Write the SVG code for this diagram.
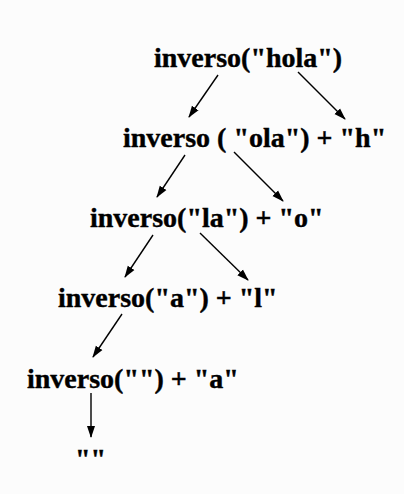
<svg xmlns="http://www.w3.org/2000/svg" width="404" height="494" viewBox="0 0 404 494">
<defs>
<style>
text{font-family:"Liberation Serif","Times New Roman",serif;font-weight:bold;font-size:28px;fill:#000;stroke:#000;stroke-width:0.4}
.c line{stroke:#000;stroke-width:1.4;marker-end:url(#ah)}
</style>
<marker id="ah" viewBox="0 0 12 10" refX="11" refY="5" markerWidth="12" markerHeight="10" markerUnits="userSpaceOnUse" orient="auto">
<path d="M0,1 L12,5 L0,9 Z" fill="#000"/>
</marker>
</defs>
<rect width="404" height="494" fill="#fcfcfc"/>
<g id="n1"><text x="154" y="67">inverso("hola")</text></g>
<g id="n2"><text x="123" y="147">inverso ( "ola") + "h"</text></g>
<g id="n3"><text x="90" y="227">inverso("la") + "o"</text></g>
<g id="n4"><text x="58" y="307">inverso("a") + "l"</text></g>
<g id="n5"><text x="27" y="388">inverso("") + "a"</text></g>
<g id="n6"><text x="75" y="468">""</text></g>
<g class="c" id="connectors">
<line x1="218" y1="75" x2="189" y2="117"/>
<line x1="298" y1="72" x2="345" y2="119"/>
<line x1="185" y1="155" x2="157" y2="197"/>
<line x1="234" y1="152" x2="283" y2="201"/>
<line x1="153" y1="235" x2="125" y2="277"/>
<line x1="200" y1="233" x2="248" y2="280"/>
<line x1="122" y1="314" x2="93" y2="357"/>
<line x1="91" y1="393" x2="91" y2="437"/>
</g>
</svg>
